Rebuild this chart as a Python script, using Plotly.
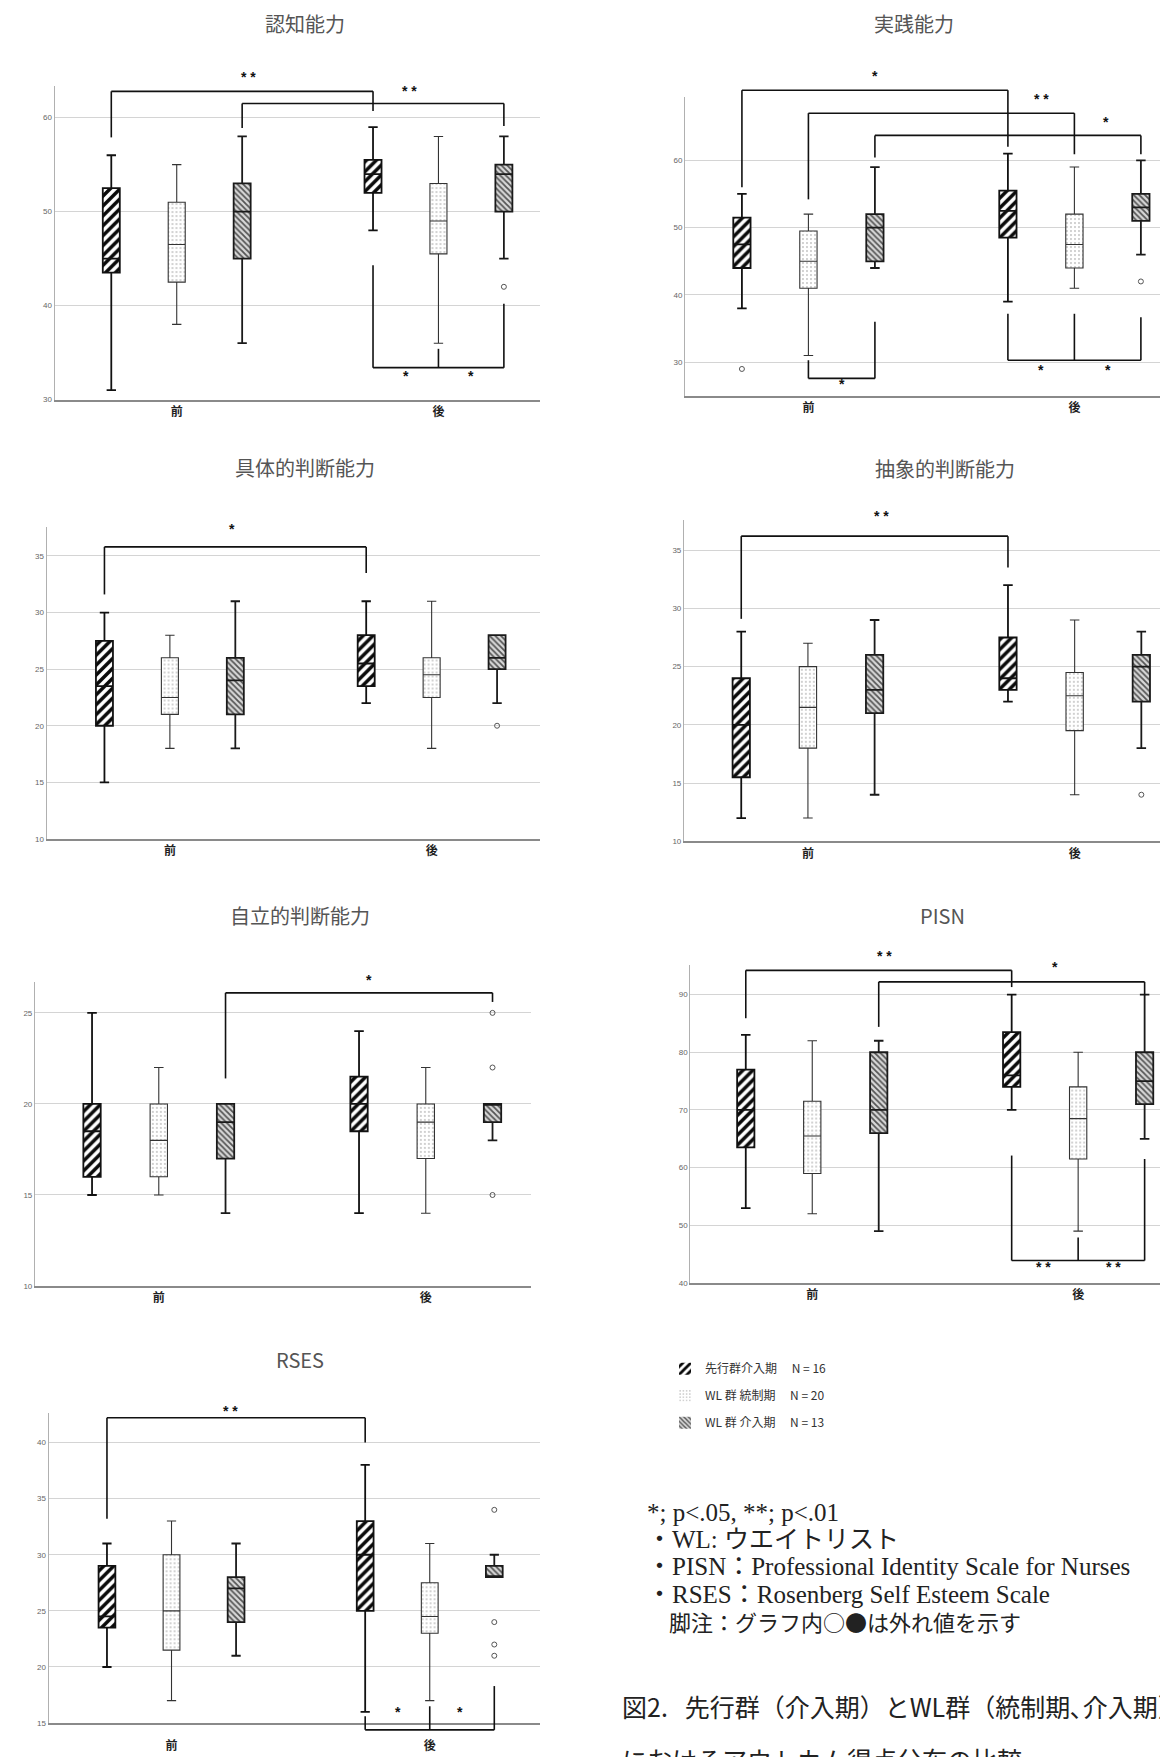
import plotly.graph_objects as go

W, H = 1168, 1757

CATS = ["前", "後"]
SERIES = ["先行群介入期", "WL 群 統制期", "WL 群 介入期"]
SERIES_N = ["N = 16", "N = 20", "N = 13"]
TITLES = ["認知能力", "実践能力", "具体的判断能力", "抽象的判断能力", "自立的判断能力", "PISN", "RSES"]

# ---- box statistics: [series][period(前, 後)] ----
cog_lo = [[31, 48], [38, 36], [36, 45]]
cog_q1 = [[43.5, 52], [42.5, 45.5], [45, 50]]
cog_med = [[45, 54], [46.5, 49], [50, 54]]
cog_q3 = [[52.5, 55.5], [51, 53], [53, 55]]
cog_hi = [[56, 59], [55, 58], [58, 58]]
cog_out = [[[], []], [[], []], [[], [42]]]

prac_lo = [[38, 39], [31, 41], [44, 46]]
prac_q1 = [[44, 48.5], [41, 44], [45, 51]]
prac_med = [[47.5, 52.5], [45, 47.5], [50, 53]]
prac_q3 = [[51.5, 55.5], [49.5, 52], [52, 55]]
prac_hi = [[55, 61], [52, 59], [59, 60]]
prac_out = [[[29], []], [[], []], [[], [42]]]

conc_lo = [[15, 22], [18, 18], [18, 22]]
conc_q1 = [[20, 23.5], [21, 22.5], [21, 25]]
conc_med = [[23.5, 25.5], [22.5, 24.5], [24, 26]]
conc_q3 = [[27.5, 28], [26, 26], [26, 28]]
conc_hi = [[30, 31], [28, 31], [31, 28]]
conc_out = [[[], []], [[], []], [[], [20]]]

abst_lo = [[12, 22], [12, 14], [14, 18]]
abst_q1 = [[15.5, 23], [18, 19.5], [21, 22]]
abst_med = [[20, 24], [21.5, 22.5], [23, 25]]
abst_q3 = [[24, 27.5], [25, 24.5], [26, 26]]
abst_hi = [[28, 32], [27, 29], [29, 28]]
abst_out = [[[], []], [[], []], [[], [14]]]

auto_lo = [[15, 14], [15, 14], [14, 18]]
auto_q1 = [[16, 18.5], [16, 17], [17, 19]]
auto_med = [[18.5, 20], [18, 19], [19, 20]]
auto_q3 = [[20, 21.5], [20, 20], [20, 20]]
auto_hi = [[25, 24], [22, 22], [20, 20]]
auto_out = [[[], []], [[], []], [[], [25, 22, 15]]]

pisn_lo = [[53, 70], [52, 49], [49, 65]]
pisn_q1 = [[63.5, 74], [59, 61.5], [66, 71]]
pisn_med = [[70, 76], [65.5, 68.5], [70, 75]]
pisn_q3 = [[77, 83.5], [71.5, 74], [80, 80]]
pisn_hi = [[83, 90], [82, 80], [82, 90]]
pisn_out = [[[], []], [[], []], [[], []]]

rses_lo = [[20, 16], [17, 17], [21, 28]]
rses_q1 = [[23.5, 25], [21.5, 23], [24, 28]]
rses_med = [[24.5, 30], [25, 24.5], [27, 28]]
rses_q3 = [[29, 33], [30, 27.5], [28, 29]]
rses_hi = [[31, 38], [33, 31], [31, 30]]
rses_out = [[[], []], [[], []], [[], [34, 24, 22, 21]]]

# ---- significance brackets: (box indices 0..5, bar level, leg end values) ----
cog_sig = [((0, 3), 62.8, (57.9, 60.7)), ((2, 5), 61.5, (58.9, 59.1)),
           ((3, 4, 5), 33.4, (44.3, 35.4, 40.2))]
cog_sig_text = [(0.276, 64.3, "* *"), (0.888, 62.8, "* *"), (0.875, 32.5, "*"), (1.125, 32.5, "*")]

prac_sig = [((0, 3), 70.4, (56.0, 62.0)), ((1, 4), 67.0, (54.2, 60.9)), ((2, 5), 63.7, (60.4, 60.9)),
            ((1, 2), 27.6, (30.3, 36.0)), ((3, 4, 5), 30.3, (37.2, 37.2, 36.7))]
prac_sig_text = [(0.25, 72.6, "*"), (0.877, 69.1, "* *"), (1.118, 65.7, "*"),
                 (0.125, 26.7, "*"), (0.875, 28.9, "*"), (1.125, 28.9, "*")]

conc_sig = [((0, 3), 35.8, (31.6, 33.5))]
conc_sig_text = [(0.237, 37.4, "*")]

abst_sig = [((0, 3), 36.2, (29.1, 33.5))]
abst_sig_text = [(0.275, 37.9, "* *")]

auto_sig = [((2, 5), 26.1, (21.4, 25.6))]
auto_sig_text = [(0.787, 26.8, "*")]

pisn_sig = [((0, 3), 94.2, (85.9, 91.3)), ((2, 5), 92.2, (84.4, 89.9)),
            ((3, 4, 5), 43.9, (62.1, 47.9, 61.5))]
pisn_sig_text = [(0.271, 96.7, "* *"), (0.913, 94.7, "*"), (0.868, 42.8, "* *"), (1.133, 42.8, "* *")]

rses_sig = [((0, 3), 42.2, (33.2, 40.0)), ((3, 4, 5), 14.4, (15.6, 16.5, 18.3))]
rses_sig_text = [(0.227, 42.8, "* *"), (0.878, 15.95, "*"), (1.117, 15.95, "*")]

NOTE_LINES = ["*; p<.05, **; p<.01", "・WL: ウエイトリスト",
              "・PISN：Professional Identity Scale for Nurses",
              "・RSES：Rosenberg Self Esteem Scale", "　脚注：グラフ内○●は外れ値を示す"]
CAPTION = ["図2.   先行群（介入期）とWL群（統制期､介入期）", "におけるアウトカム得点分布の比較"]

PANEL_DATA = [
    (cog_lo, cog_q1, cog_med, cog_q3, cog_hi, cog_out, cog_sig, cog_sig_text),
    (prac_lo, prac_q1, prac_med, prac_q3, prac_hi, prac_out, prac_sig, prac_sig_text),
    (conc_lo, conc_q1, conc_med, conc_q3, conc_hi, conc_out, conc_sig, conc_sig_text),
    (abst_lo, abst_q1, abst_med, abst_q3, abst_hi, abst_out, abst_sig, abst_sig_text),
    (auto_lo, auto_q1, auto_med, auto_q3, auto_hi, auto_out, auto_sig, auto_sig_text),
    (pisn_lo, pisn_q1, pisn_med, pisn_q3, pisn_hi, pisn_out, pisn_sig, pisn_sig_text),
    (rses_lo, rses_q1, rses_med, rses_q3, rses_hi, rses_out, rses_sig, rses_sig_text),
]

# ---- layout geometry (pixels) ----
GEOM = [
    dict(px=(46.5, 532, 78.3, 392.7), xr=(-0.467, 1.388), yr=(30, 63.36), dt=10, title=(297, 16), so=0),
    dict(px=(677, 1168, 89.3, 389), xr=(-0.464, 1.382), yr=(25, 69.4), dt=10, title=(906, 16), so=0),
    dict(px=(38.6, 532, 520, 833.3), xr=(-0.471, 1.414), yr=(10, 37.6), dt=5, title=(297, 461), so=0),
    dict(px=(675.9, 1168, 513.3, 835.7), xr=(-0.465, 1.38), yr=(10, 37.6), dt=5, title=(937, 462), so=0),
    dict(px=(26.9, 522.7, 976.7, 1281.7), xr=(-0.464, 1.393), yr=(10, 26.7), dt=5, title=(292, 910), so=0),
    dict(px=(682.2, 1168, 959.3, 1278.7), xr=(-0.459, 1.368), yr=(40, 95.2), dt=10, title=(934, 910), so=0),
    dict(px=(40.6, 532, 1409.3, 1720), xr=(-0.476, 1.427), yr=(15, 42.6), dt=5, title=(292, 1355), so=11),
]

BOXGAP = 0.25
BOXGROUPGAP = 0.74
SLOT = (1 - BOXGAP) / 3

PATTERNS = [
    dict(shape="/", fgcolor="#0a0a0a", bgcolor="#ffffff", fgopacity=1, size=7, solidity=0.5),
    dict(shape=".", fgcolor="#8a8a8a", bgcolor="#ffffff", fgopacity=1, size=4, solidity=0.1),
    dict(shape="\\", fgcolor="#555555", bgcolor="#d8d8d8", fgopacity=1, size=4, solidity=0.45),
]
LINECOL = ["#111111", "#333333", "#1a1a1a"]
LINEW = [1.8, 1.1, 1.8]

CJK = "Noto Sans CJK JP"

fig = go.Figure()
shapes = []
annotations = []


def box_pos(i):
    return (i // 3) + ((i % 3) - 1) * SLOT


for k, (g, pdata) in enumerate(zip(GEOM, PANEL_DATA), start=1):
    lo, q1, med, q3, hi, out, sig, sig_text = pdata
    sfx = "" if k == 1 else str(k)
    xa, ya = f"x{sfx}", f"y{sfx}"
    for s in range(3):
        fig.add_trace(go.Bar(
            x=CATS, y=[q3[s][p] - q1[s][p] for p in range(2)], base=q1[s],
            xaxis=xa, yaxis=ya, name=f"{SERIES[s]}　 {SERIES_N[s]}",
            legendgroup=SERIES[s], showlegend=(k == 1),
            alignmentgroup=f"p{k}", offsetgroup=f"s{s}",
            marker=dict(color=PATTERNS[s]["bgcolor"], line=dict(width=0), pattern=PATTERNS[s]),
            hoverinfo="skip",
        ))
    for s in range(3):
        # period with outliers first, so plotly reads the sample arrays as per-box lists
        order = sorted(range(2), key=lambda p: -len(out[s][p]))
        has_out = any(len(out[s][p]) for p in range(2))
        fig.add_trace(go.Box(
            x=[CATS[p] for p in order],
            q1=[q1[s][p] for p in order], median=[med[s][p] for p in order],
            q3=[q3[s][p] for p in order],
            lowerfence=[lo[s][p] for p in order], upperfence=[hi[s][p] for p in order],
            y=[out[s][p] for p in order] if has_out else None,
            orientation="v", boxpoints="outliers" if has_out else False, jitter=0, pointpos=0,
            xaxis=xa, yaxis=ya, name=SERIES[s], legendgroup=SERIES[s], showlegend=False,
            alignmentgroup=f"p{k}", offsetgroup=f"s{s}",
            fillcolor="rgba(0,0,0,0)", line=dict(color=LINECOL[s], width=LINEW[s]),
            whiskerwidth=0.55,
            marker=dict(symbol="circle-open", size=5, color="#555555", line=dict(width=1)),
            hoverinfo="skip",
        ))

    left, right, top, bottom = g["px"]
    x0, x1 = g["xr"]
    y0, y1 = g["yr"]
    fig.update_layout(**{
        f"xaxis{sfx}": dict(domain=[left / W, right / W], range=[x0, x1], type="category",
                            categoryorder="array", categoryarray=CATS, anchor=ya,
                            showline=True, linecolor="#8a8a8a", linewidth=1.6, showgrid=False,
                            zeroline=False, ticks="", ticklabelstandoff=g["so"],
                            tickfont=dict(family=CJK, size=12, color="#222222", weight=700)),
        f"yaxis{sfx}": dict(domain=[1 - bottom / H, 1 - top / H], range=[y0, y1], anchor=xa,
                            dtick=g["dt"], tick0=0, showgrid=True, gridcolor="#d4d4d4", gridwidth=1,
                            showline=True, linecolor="#b0b0b0", linewidth=1, zeroline=False,
                            ticks="", tickfont=dict(family="Liberation Sans", size=8, color="#666666")),
    })

    fx = lambda u: (u - x0) / (x1 - x0)
    fy = lambda v: (v - y0) / (y1 - y0)
    xr_, yr_ = f"{xa} domain", f"{ya} domain"
    for boxes, level, legs in sig:
        shapes.append(dict(type="line", xref=xr_, yref=yr_,
                           x0=fx(box_pos(boxes[0])), x1=fx(box_pos(boxes[-1])),
                           y0=fy(level), y1=fy(level), line=dict(color="#111111", width=1.6)))
        for b, e in zip(boxes, legs):
            shapes.append(dict(type="line", xref=xr_, yref=yr_,
                               x0=fx(box_pos(b)), x1=fx(box_pos(b)),
                               y0=fy(level), y1=fy(e), line=dict(color="#111111", width=1.6)))
    for u, v, t in sig_text:
        annotations.append(dict(xref=xr_, yref=yr_, x=fx(u), y=fy(v), text=f"<b>{t}</b>",
                                showarrow=False, xanchor="center", yanchor="middle",
                                font=dict(family="Liberation Sans", size=14, color="#111111")))
    tx, ty = g["title"]
    annotations.append(dict(xref="paper", yref="paper", x=tx / W, y=1 - ty / H, text=TITLES[k - 1],
                            showarrow=False, xanchor="center", yanchor="middle",
                            font=dict(family=CJK, size=20, color="#555555")))

NOTE_Y = [1509, 1536, 1563, 1591, 1618]
for i, (line, yy) in enumerate(zip(NOTE_LINES, NOTE_Y)):
    fam = CJK if i == len(NOTE_LINES) - 1 else "Liberation Serif, " + CJK
    annotations.append(dict(xref="paper", yref="paper", x=637 / W, y=1 - yy / H, text=line,
                            showarrow=False, xanchor="left", yanchor="middle",
                            font=dict(family=fam, size=25 if i < len(NOTE_LINES) - 1 else 22,
                                      color="#222222")))
for line, yy in zip(CAPTION, [1703, 1756]):
    annotations.append(dict(xref="paper", yref="paper", x=612 / W, y=1 - yy / H, text=line,
                            showarrow=False, xanchor="left", yanchor="middle",
                            font=dict(family=CJK, size=25, color="#222222")))

fig.update_layout(
    width=W, height=H, margin=dict(l=0, r=0, t=0, b=0),
    paper_bgcolor="white", plot_bgcolor="white",
    boxmode="group", boxgap=BOXGAP, boxgroupgap=BOXGROUPGAP,
    barmode="group", bargap=BOXGAP, bargroupgap=BOXGROUPGAP,
    showlegend=True,
    legend=dict(x=657 / W, y=1 - 1350 / H, xanchor="left", yanchor="top",
                font=dict(family=CJK, size=12, color="#333333"),
                tracegroupgap=8, bgcolor="rgba(0,0,0,0)", traceorder="grouped"),
    shapes=shapes, annotations=annotations,
)

fig.write_html("out.html")
